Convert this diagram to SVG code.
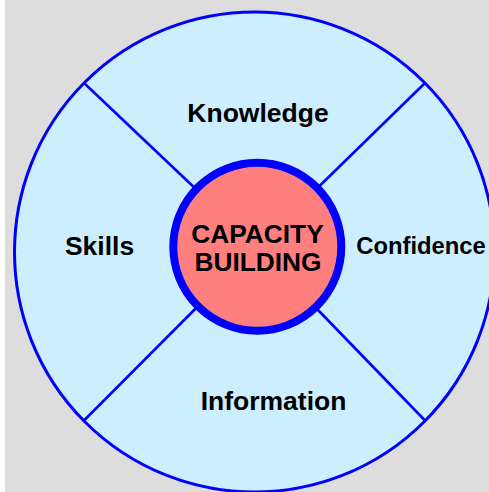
<svg xmlns="http://www.w3.org/2000/svg" width="489" height="492" viewBox="0 0 489 492">
<style>
.lbl{font-family:"Liberation Sans",Arial,sans-serif;font-weight:bold;fill:#000;text-anchor:middle}
.spoke{stroke:#0000ff;stroke-width:2.6;fill:none}
</style>
<rect x="0" y="0" width="489" height="492" fill="#dddddd"/>
<rect x="0" y="0" width="5" height="492" fill="#ffffff"/>
<g id="wheel">
<circle cx="254.5" cy="252" r="240" fill="#cceeff" stroke="#0000ff" stroke-width="3"/>
</g>
<g id="connectors">
<line class="spoke" x1="83.5" y1="82.5" x2="257" y2="247"/>
<line class="spoke" x1="425.5" y1="82.5" x2="257" y2="247"/>
<line class="spoke" x1="83.5" y1="421" x2="257" y2="247"/>
<line class="spoke" x1="425.5" y1="421" x2="257" y2="247"/>
</g>
<g id="knowledge"><text class="lbl" x="258" y="122" font-size="26.5">Knowledge</text></g>
<g id="skills"><text class="lbl" x="99.5" y="255" font-size="26.5">Skills</text></g>
<g id="confidence"><text class="lbl" x="421" y="253.5" font-size="23.8">Confidence</text></g>
<g id="information"><text class="lbl" x="273.5" y="410" font-size="26.5">Information</text></g>
<g id="capacity-building">
<circle cx="257.3" cy="246.8" r="84" fill="#ff7f7f" stroke="#0000ff" stroke-width="8"/>
<text class="lbl" x="257.5" y="242.5" font-size="26.3">CAPACITY</text>
<text class="lbl" x="258" y="271" font-size="26.3">BUILDING</text>
</g>
</svg>
